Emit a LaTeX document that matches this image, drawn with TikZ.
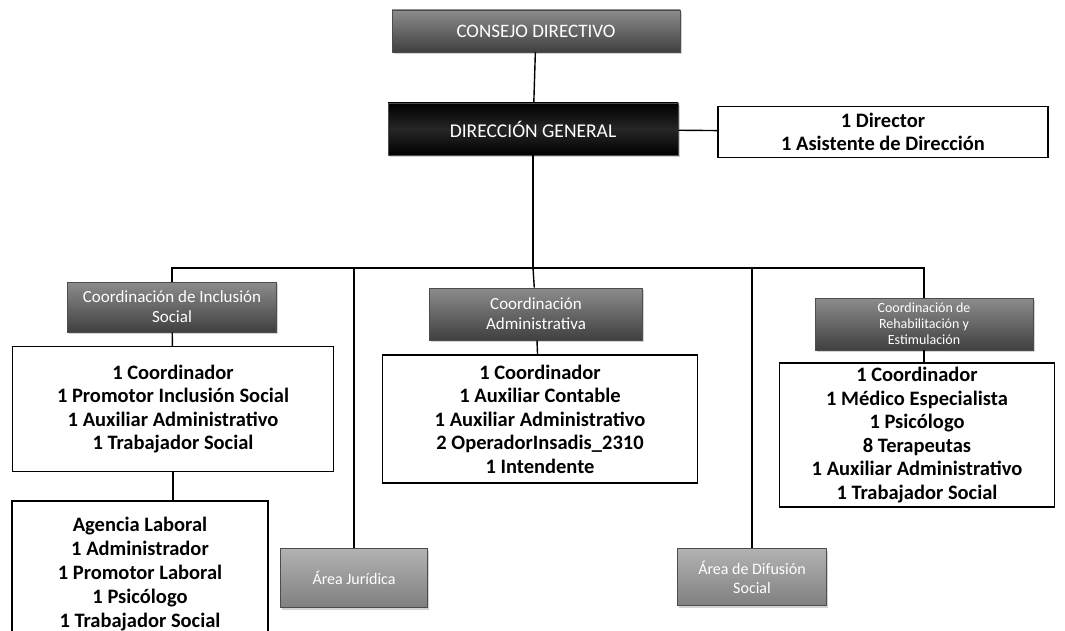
\documentclass[tikz,border=0pt]{standalone}
\usepackage{fontspec}
\setmainfont{Carlito}
\usetikzlibrary{shadows}

\begin{document}
\begin{tikzpicture}[x=1pt,y=-1pt,line width=1.4pt,
  gbox/.style={draw=black!70,line width=0.8pt,top color=black!45,bottom color=black!75,middle color=black!60,
    text=white,align=center,inner sep=0pt,drop shadow={opacity=0.35,shadow xshift=1.5pt,shadow yshift=-2pt}},
  abox/.style={gbox,top color=black!30,bottom color=black!50,middle color=black!40},
  lbox/.style={draw,fill=white,align=center,inner sep=0pt,font=\bfseries\fontsize{20.5}{23.5}\selectfont}]%\usetikzlibrary{shadows}
\clip (0,0) rectangle (1065,631);
\node [gbox,minimum width=288,minimum height=42,font=\fontsize{19}{22}\selectfont] (CD) at (536,31) {CONSEJO DIRECTIVO};
\node [gbox,fill=black,top color=black,bottom color=black,middle color=black!85,minimum width=290,minimum height=52,font=\fontsize{19.5}{22}\selectfont] (DG) at (533,129) {DIRECCIÓN GENERAL};
\node [lbox,minimum width=330,minimum height=51] (DIR) at (883,132) {1 Director\\1 Asistente de Dirección};
\node [gbox,minimum width=209,minimum height=50,font=\fontsize{17}{20}\selectfont] (C1) at (172,307) {Coordinación de Inclusión\\Social};
\node [gbox,minimum width=213,minimum height=52,font=\fontsize{17}{20}\selectfont] (C2) at (536,314) {Coordinación\\Administrativa};
\node [gbox,minimum width=218,minimum height=52,font=\fontsize{14}{16}\selectfont] (C3) at (924,324) {Coordinación de\\Rehabilitación y\\Estimulación};
\node [lbox,minimum width=321,minimum height=125] (L1) at (173,409) {1 Coordinador\\1 Promotor Inclusión Social\\1 Auxiliar Administrativo\\1 Trabajador Social};
\node [lbox,minimum width=315,minimum height=128] (L2) at (540,419) {1 Coordinador\\1 Auxiliar Contable\\1 Auxiliar Administrativo\\2 OperadorInsadis\_2310\\1 Intendente};
\node [lbox,minimum width=275,minimum height=144] (L3) at (917,435) {1 Coordinador\\1 Médico Especialista\\1 Psicólogo\\8 Terapeutas\\1 Auxiliar Administrativo\\1 Trabajador Social};
\node [lbox,minimum width=256,minimum height=146,font=\bfseries\fontsize{20.5}{24}\selectfont] (AG) at (140,574) {Agencia Laboral\\1 Administrador\\1 Promotor Laboral\\1 Psicólogo\\1 Trabajador Social};
\node [abox,minimum width=147,minimum height=59,font=\fontsize{16}{19}\selectfont] (AJ) at (354,578) {Área Jurídica};
\node [abox,minimum width=149,minimum height=57,font=\fontsize{16}{19}\selectfont] (AD) at (752,577) {Área de Difusión\\Social};
\coordinate (bus) at (533,268);
\draw (CD) -- (DG);
\draw (DG) -- (DIR);
\draw (DG) -- (bus);
\draw (C1.north) -- (C1.north |- bus) -- (C3.north |- bus) -- (C3.north);
\draw (AJ.north) -- (AJ.north |- bus);
\draw (C2) -- (bus);
\draw (AD.north) -- (AD.north |- bus);
\draw (C1) -- (L1);
\draw (C2) -- (L2);
\draw (C3.south) -- (C3.south |- L3.north);
\draw (L1.south) -- (L1.south |- AG.north);
\end{tikzpicture}
\end{document}
